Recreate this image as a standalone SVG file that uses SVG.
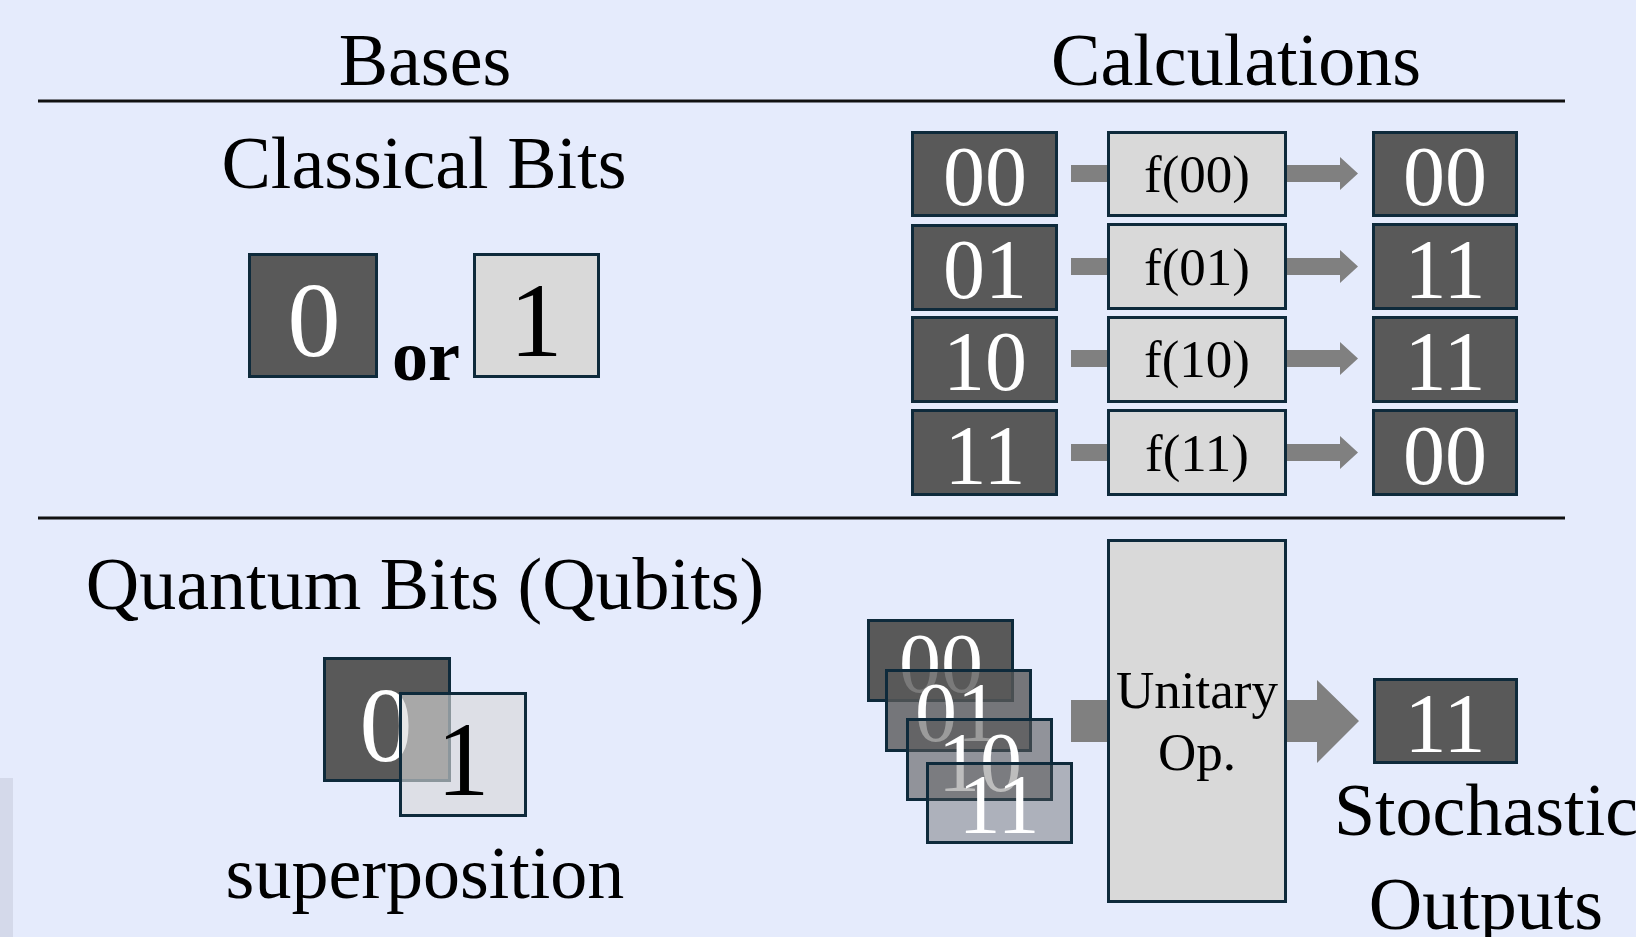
<svg xmlns="http://www.w3.org/2000/svg" width="1636" height="937" viewBox="0 0 1636 937">
  <style>
    text { font-family: "Liberation Serif", "Times New Roman", serif; }
    .head { font-size: 74px; fill: #000; text-anchor: middle; }
    .dark { fill: #595959; stroke: #0e2a3b; stroke-width: 3; }
    .light { fill: #d9d9d9; stroke: #0e2a3b; stroke-width: 3; }
    .bit { font-size: 84px; fill: #fff; text-anchor: middle; }
    .big { font-size: 106px; text-anchor: middle; }
    .fn { font-size: 53px; fill: #000; text-anchor: middle; }
    .rule { stroke: #111; stroke-width: 3; }
    .flow { fill: #808080; }
  </style>

  <!-- page background -->
  <rect x="0" y="0" width="1636" height="937" fill="#e5ebfc"/>
  <rect x="0" y="778" width="13" height="159" fill="#d4d9ea"/>

  <!-- column headings and separators -->
  <g id="headings">
    <text class="head" x="425" y="85">Bases</text>
    <text class="head" x="1236" y="85">Calculations</text>
    <line class="rule" x1="38" y1="101" x2="1565" y2="101"/>
    <line class="rule" x1="38" y1="518" x2="1565" y2="518"/>
  </g>

  <!-- classical bits -->
  <g id="classical-bits">
    <text class="head" x="424" y="188">Classical Bits</text>
    <rect class="dark" x="249.5" y="254.5" width="127" height="122"/>
    <text class="big" x="314" y="356" fill="#fff">0</text>
    <text x="426" y="380" font-size="72" font-weight="bold" text-anchor="middle">or</text>
    <rect class="light" x="474.5" y="254.5" width="124" height="122"/>
    <text class="big" x="536" y="356" fill="#000">1</text>
  </g>

  <!-- classical calculation table -->
  <g id="calc-in">
    <rect class="dark" x="912.5" y="132.5" width="144" height="83"/>
    <text class="bit" x="985" y="205">00</text>
    <rect class="dark" x="912.5" y="225.5" width="144" height="84"/>
    <text class="bit" x="985" y="298">01</text>
    <rect class="dark" x="912.5" y="317.5" width="144" height="84"/>
    <text class="bit" x="985" y="390">10</text>
    <rect class="dark" x="912.5" y="410.5" width="144" height="84"/>
    <text class="bit" x="985" y="484">11</text>
  </g>
  <g id="calc-fn">
    <rect class="light" x="1108.5" y="132.5" width="177" height="83"/>
    <text class="fn" x="1197" y="192">f(00)</text>
    <rect class="light" x="1108.5" y="224.5" width="177" height="84"/>
    <text class="fn" x="1197" y="285">f(01)</text>
    <rect class="light" x="1108.5" y="317.5" width="177" height="84"/>
    <text class="fn" x="1197" y="377">f(10)</text>
    <rect class="light" x="1108.5" y="410.5" width="177" height="84"/>
    <text class="fn" x="1197" y="471">f(11)</text>
  </g>
  <g id="calc-out">
    <rect class="dark" x="1373.5" y="132.5" width="143" height="83"/>
    <text class="bit" x="1445" y="205">00</text>
    <rect class="dark" x="1373.5" y="224.5" width="143" height="84"/>
    <text class="bit" x="1445" y="298">11</text>
    <rect class="dark" x="1373.5" y="317.5" width="143" height="84"/>
    <text class="bit" x="1445" y="390">11</text>
    <rect class="dark" x="1373.5" y="410.5" width="143" height="84"/>
    <text class="bit" x="1445" y="484">00</text>
  </g>

  <!-- quantum bits -->
  <g id="qubits">
    <text class="head" x="425" y="609">Quantum Bits (Qubits)</text>
    <rect class="dark" x="324.5" y="658.5" width="125" height="122"/>
    <text class="big" x="386" y="761" fill="#fff">0</text>
    <rect x="400.5" y="693.5" width="125" height="122" fill="#d9d9d9" fill-opacity="0.62" stroke="#0e2a3b" stroke-width="3"/>
    <text class="big" x="463" y="795" fill="#000">1</text>
    <text class="head" x="425" y="898">superposition</text>
  </g>

  <!-- superposed register states -->
  <g id="register">
    <rect x="868.5" y="620.5" width="144" height="80" fill="#595959" stroke="#0e2a3b" stroke-width="3"/>
    <text class="bit" x="941" y="692">00</text>
    <rect x="886.5" y="670.5" width="144" height="80" fill="#595959" fill-opacity="0.8" stroke="#0e2a3b" stroke-width="3"/>
    <text class="bit" x="957" y="741">01</text>
    <rect x="907.5" y="719.5" width="144" height="80" fill="#595959" fill-opacity="0.6" stroke="#0e2a3b" stroke-width="3"/>
    <text class="bit" x="980" y="791">10</text>
    <rect x="927.5" y="763.5" width="144" height="79" fill="#595959" fill-opacity="0.4" stroke="#0e2a3b" stroke-width="3"/>
    <text class="bit" x="999" y="833">11</text>
  </g>

  <g id="unitary">
    <rect class="light" x="1108.5" y="540.5" width="177" height="361"/>
    <text class="fn" x="1197" y="708">Unitary</text>
    <text class="fn" x="1197" y="770">Op.</text>
  </g>

  <g id="measured">
    <rect class="dark" x="1374.5" y="679.5" width="142" height="83"/>
    <text class="bit" x="1445" y="752">11</text>
    <text class="head" x="1486" y="835">Stochastic</text>
    <text class="head" x="1486" y="929">Outputs</text>
  </g>

  <!-- connectors -->
  <g id="connectors">
    <rect class="flow" x="1071" y="165" width="36" height="17"/>
    <polygon class="flow" points="1287,165 1340,165 1340,157 1358,173.5 1340,190 1340,182 1287,182"/>
    <rect class="flow" x="1071" y="258" width="36" height="17"/>
    <polygon class="flow" points="1287,258 1340,258 1340,250 1358,266.5 1340,283 1340,275 1287,275"/>
    <rect class="flow" x="1071" y="350" width="36" height="17"/>
    <polygon class="flow" points="1287,350 1340,350 1340,342 1358,358.5 1340,375 1340,367 1287,367"/>
    <rect class="flow" x="1071" y="444" width="36" height="17"/>
    <polygon class="flow" points="1287,444 1340,444 1340,436 1358,452.5 1340,469 1340,461 1287,461"/>
    <rect class="flow" x="1071" y="700" width="36" height="42"/>
    <polygon class="flow" points="1287,700 1317,700 1317,680 1359,721 1317,763 1317,742 1287,742"/>
  </g>
</svg>
